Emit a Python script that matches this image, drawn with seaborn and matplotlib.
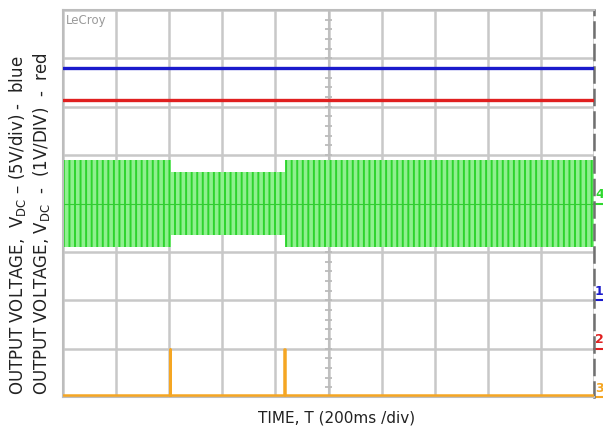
import numpy as np
import pandas as pd
import matplotlib.pyplot as plt
import seaborn as sns

# time axis in ms (200 ms/div, 10 div), vertical in divisions (8 div)
blue_t = [0, 2000]
blue_v = [6.8, 6.8]
red_t = [0, 2000]
red_v = [6.14, 6.14]

# green ripple envelope: centre level and half amplitude
green_t = [0, 405, 405, 835, 835, 2000]
green_amp = [0.9, 0.9, 0.66, 0.66, 0.9, 0.9]
green_mid = 4.0

# yellow trace with two pulses
yellow_t = [0, 403, 403, 403, 834, 834, 836, 836, 838, 838, 2000]
yellow_v = [0.04, 0.04, 1.0, 0.04, 0.04, 1.0, 1.0, 1.0, 1.0, 0.04, 0.04]

marker_labels = ['4', '1', '2', '3']
marker_levels = [4.0, 2.0, 1.0, 0.0]
marker_colors = ['#2fd82f', '#1a1acc', '#e02020', '#f5a623']

sns.set_theme(style='white')
plt.rcParams['font.family'] = ['DejaVu Sans']
plt.rcParams['mathtext.fontset'] = 'dejavusans'
plt.rcParams['hatch.linewidth'] = 1.4

fig = plt.figure(figsize=(6.03, 4.43), dpi=100)
ax = fig.add_axes([63 / 603, 46 / 443, 531 / 603, 387 / 443])

# grid
ax.set_xlim(0, 2000)
ax.set_ylim(0, 8)
for gx in range(0, 2001, 200):
    ax.axvline(gx, color='#c8c8c8', lw=1.8, zorder=0)
for gy in range(0, 9):
    ax.axhline(gy, color='#c8c8c8', lw=1.8, zorder=0)
# centre axis with minor ticks
ax.axvline(1000, color='#c0c0c0', lw=1.5, zorder=0)
ax.hlines(np.arange(0, 8.01, 0.2), 985, 1015, color='#bbbbbb', lw=1.3, zorder=0)

# green ripple band
g = pd.DataFrame({'t': green_t, 'amp': green_amp})
ax.fill_between(g['t'], green_mid - g['amp'], green_mid + g['amp'],
                facecolor='#8ff08f', edgecolor='#2ed42e', hatch='|||', lw=0, zorder=2)
ax.hlines(green_mid, 0, 2000, color='#33cc33', lw=0.8, zorder=2)

sns.lineplot(x=blue_t, y=blue_v, ax=ax, color='#1a1acc', lw=2.4, zorder=3)
sns.lineplot(x=red_t, y=red_v, ax=ax, color='#e02020', lw=2.4, zorder=3)
sns.lineplot(x=yellow_t, y=yellow_v, ax=ax, color='#f5a623', lw=1.8, zorder=3,
             sort=False, estimator=None)

for lab, lev, c in zip(marker_labels, marker_levels, marker_colors):
    ax.text(2004, lev + 0.05, lab, color=c, fontsize=9, fontweight='bold',
            ha='left', va='bottom', clip_on=False)
    ax.plot([2000, 2040], [lev, lev], color=c, lw=1.5, clip_on=False)

ax.set_xticks([])
ax.set_yticks([])
ax.set_xlabel('')
ax.set_ylabel('')
for s in ['top', 'left', 'bottom']:
    ax.spines[s].set_color('#bdbdbd')
    ax.spines[s].set_linewidth(1.5)
ax.spines['right'].set_color('#707070')
ax.spines['right'].set_linewidth(1.8)
ax.spines['right'].set_linestyle((0, (6, 3)))

ax.text(0.005, 0.99, 'LeCroy', transform=ax.transAxes, color='#9a9a9a',
        fontsize=8.5, ha='left', va='top')

fig.text(18 / 603, 48 / 443, r'OUTPUT VOLTAGE,  V$_\mathrm{DC}$ – (5V/div) -  blue',
         rotation=90, ha='center', va='bottom', fontsize=12, color='#222222')
fig.text(42 / 603, 48 / 443, r'OUTPUT VOLTAGE, V$_\mathrm{DC}$  -  (1V/DIV)  -  red',
         rotation=90, ha='center', va='bottom', fontsize=12, color='#222222')
fig.text(337 / 603, 25 / 443, 'TIME, T (200ms /div)', ha='center', va='center',
         fontsize=11, color='#222222')

fig.savefig('out.png', dpi=100)
